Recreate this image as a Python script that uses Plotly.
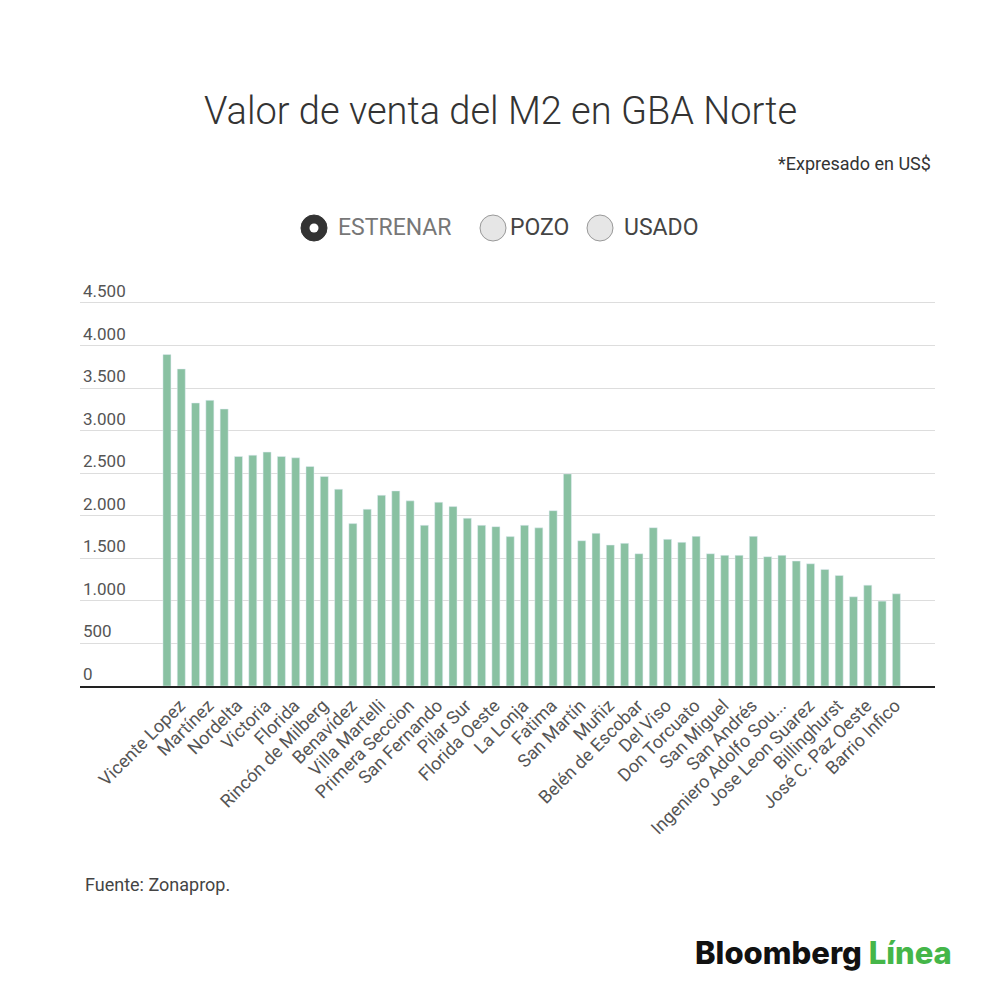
import plotly.graph_objects as go

# Valores (US$ por m2, a estrenar)
valores = [3894, 3725, 3325, 3356, 3254, 2697, 2712, 2748, 2697, 2681,
           2579, 2461, 2312, 1908, 2077, 2241, 2292, 2175, 1888, 2159,
           2108, 1971, 1888, 1872, 1755, 1888, 1858, 2060, 2492, 1707,
           1794, 1656, 1676, 1554, 1860, 1723, 1688, 1758, 1554, 1535,
           1535, 1758, 1519, 1535, 1468, 1436, 1370, 1299, 1048, 1185,
           997, 1083]

# solo se ve una etiqueta cada dos barras
etiquetas = ['Vicente Lopez', 'Martínez', 'Nordelta', 'Victoria', 'Florida',
             'Rincón de Milberg', 'Benavídez', 'Villa Martelli', 'Primera Seccion',
             'San Fernando', 'Pilar Sur', 'Florida Oeste', 'La Lonja', 'Fatima',
             'San Martín', 'Muñiz', 'Belén de Escobar', 'Del Viso', 'Don Torcuato',
             'San Miguel', 'San Andrés', 'Ingeniero Adolfo Sou...', 'Jose Leon Suarez',
             'Billinghurst', 'José C. Paz Oeste', 'Barrio Infico']

opciones = ['ESTRENAR', 'POZO', 'USADO']

W, H = 1000, 994
OFF = 8  # margen del body en la pagina
L, R, T, B = 80 - OFF, 935 - OFF, 280 - OFF, 686 - OFF

def px(x):
    return (x - OFF - L) / (R - L)

def py(y):
    return (B - (y - OFF)) / (B - T)

pos = list(range(len(valores)))

fig = go.Figure()
fig.add_trace(go.Bar(x=pos, y=valores, marker={'color': '#89c1a2'},
                     hovertemplate='%{y:,.0f}<extra></extra>'))

fig.update_layout(
    width=W, height=H,
    margin=dict(l=L, r=W - R, t=T, b=H - B),
    paper_bgcolor='white', plot_bgcolor='white',
    separators=',.',
    showlegend=False,
    bargap=0.44,
    font=dict(family='Roboto', color='#555'),
)

fig.update_xaxes(range=[-6.08, 53.7], tickvals=pos[::2], ticktext=etiquetas,
                 tickangle=-45, tickfont=dict(size=18, color='#555'),
                 ticklabelshift=13,
                 showgrid=False, showline=True, linecolor='#222', linewidth=2,
                 ticks='', zeroline=False)
fig.update_yaxes(range=[0, 4770], tickvals=list(range(0, 4501, 500)), tickformat=',d',
                 ticklabelposition='inside top', tickfont=dict(size=17, color='#555'),
                 showgrid=True, gridcolor='#dddddd', gridwidth=1,
                 zeroline=False, showline=False)

# titulo y textos
fig.add_annotation(text='Valor de venta del M2 en GBA Norte', x=px(500), y=py(111),
                   xref='paper', yref='paper', showarrow=False, yanchor='middle',
                   font=dict(family='Roboto', size=38, color='#333', weight=300))
fig.add_annotation(text='*Expresado en US$', x=px(933), y=py(164),
                   xref='paper', yref='paper', xanchor='right', yanchor='middle',
                   showarrow=False,
                   font=dict(family='Roboto', size=18, color='#333'))
fig.add_annotation(text='Fuente: Zonaprop.', x=px(83), y=py(884),
                   xref='paper', yref='paper', xanchor='left', yanchor='middle',
                   showarrow=False,
                   font=dict(family='Roboto', size=18, color='#444'))
fig.add_annotation(text='Bloomberg <span style="color:#45b649">Línea</span>',
                   x=px(954), y=py(952), xref='paper', yref='paper', xanchor='right',
                   yanchor='middle', showarrow=False,
                   font=dict(family='Inter', size=31, color='#111', weight=800))

# selector tipo radio
centros = [314, 493, 600]
textos_x = [336, 508, 622]
for i, (op, cx, tx) in enumerate(zip(opciones, centros, textos_x)):
    r = 13
    if i == 0:
        fig.add_shape(type='circle', xref='paper', yref='paper',
                      x0=px(cx - r), x1=px(cx + r), y0=py(228 + r), y1=py(228 - r),
                      fillcolor='#333', line=dict(color='#333', width=1))
        fig.add_shape(type='circle', xref='paper', yref='paper',
                      x0=px(cx - 4.5), x1=px(cx + 4.5), y0=py(228 + 4.5), y1=py(228 - 4.5),
                      fillcolor='white', line=dict(color='white', width=0))
    else:
        fig.add_shape(type='circle', xref='paper', yref='paper',
                      x0=px(cx - r), x1=px(cx + r), y0=py(228 + r), y1=py(228 - r),
                      fillcolor='#e6e6e6', line=dict(color='#999', width=1))
    fig.add_annotation(text=op, x=px(tx), y=py(228), xref='paper', yref='paper',
                       xanchor='left', yanchor='middle', showarrow=False,
                       font=dict(family='Roboto', size=23,
                                 color='#777' if i == 0 else '#444'))

fig.write_html("out.html")
